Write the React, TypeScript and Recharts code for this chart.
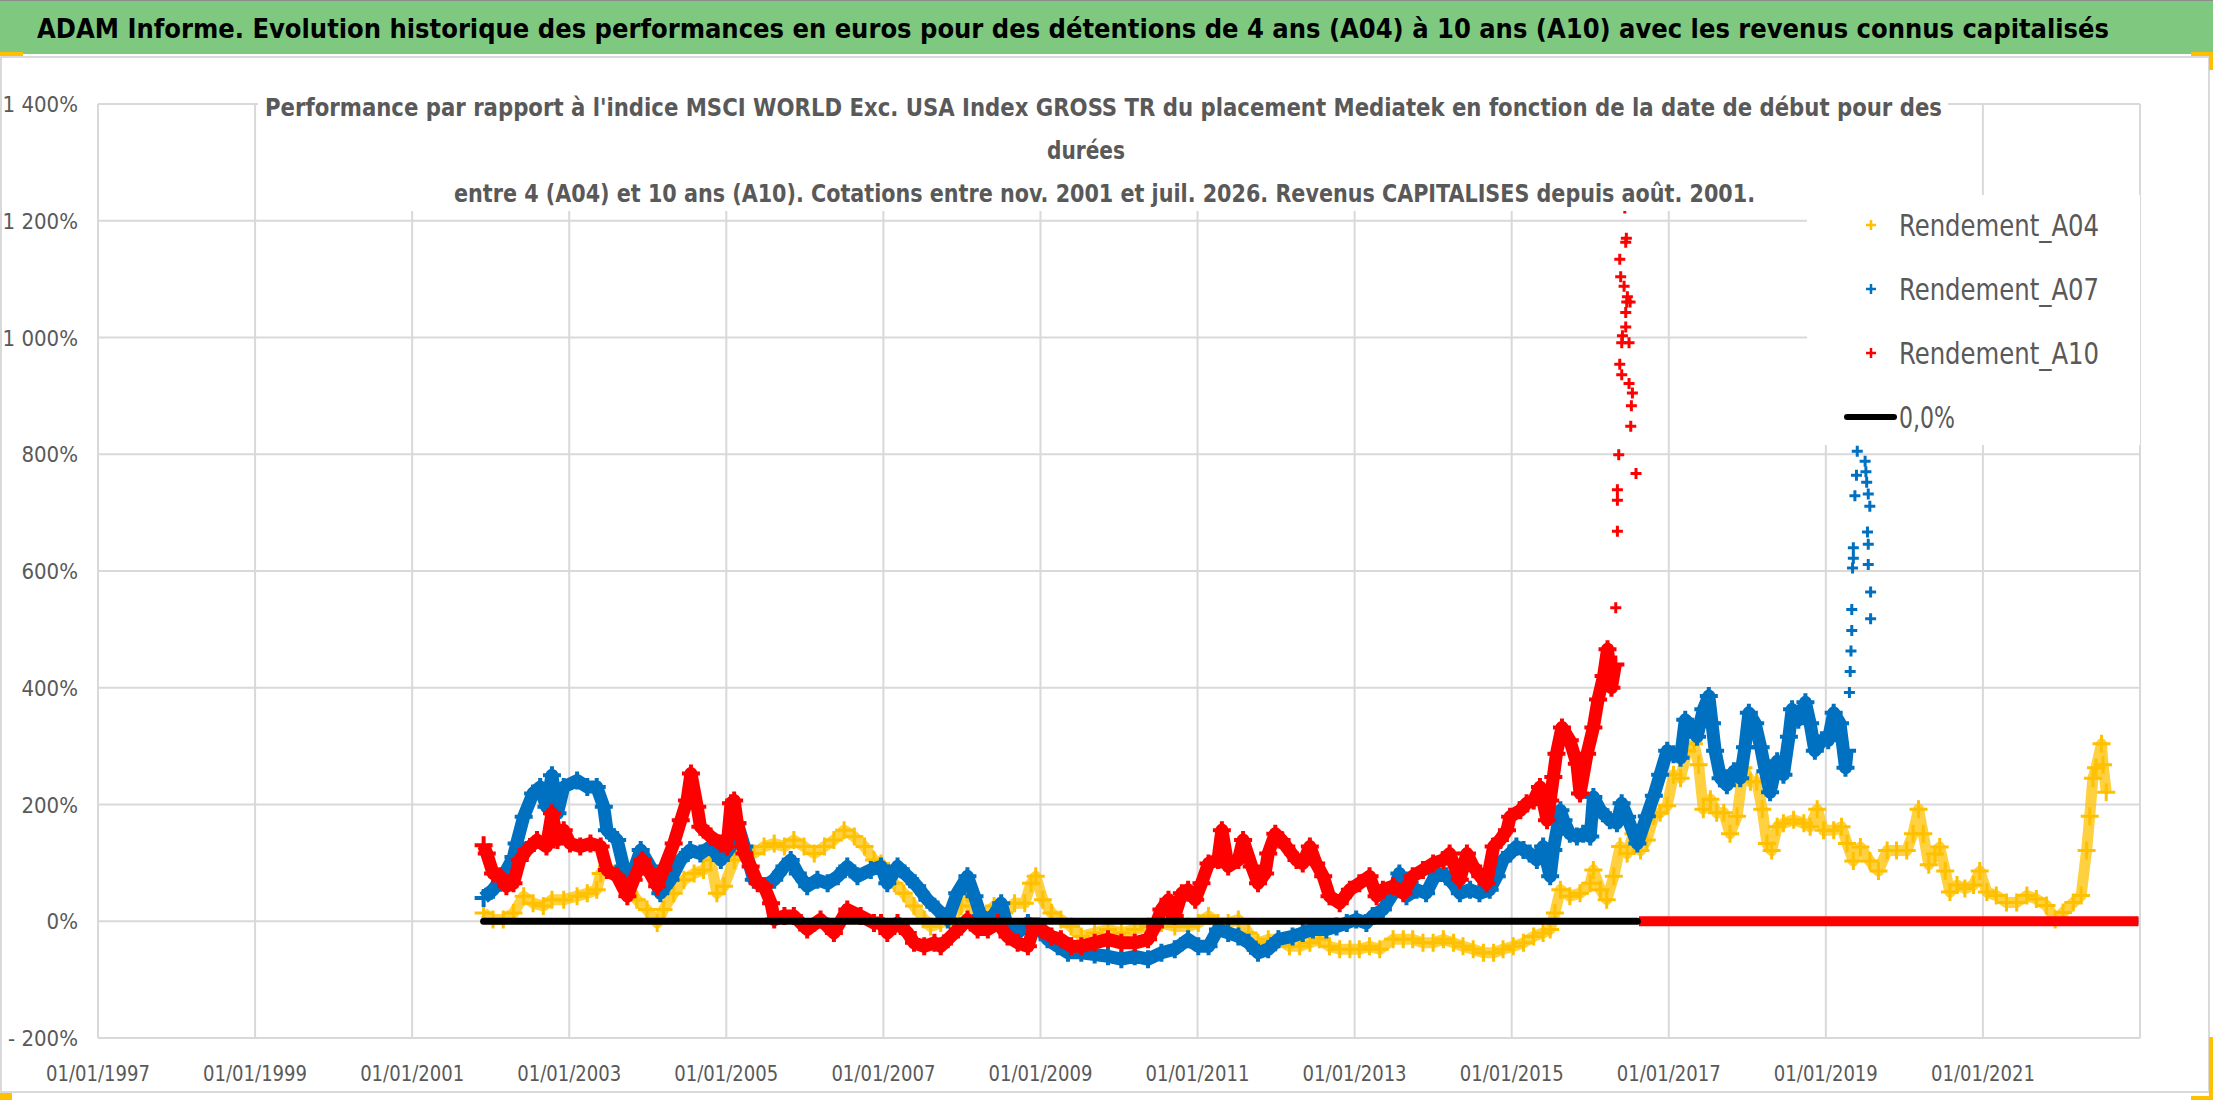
import React from 'react';
import { ScatterChart, Scatter, XAxis, YAxis, CartesianGrid, Legend } from 'recharts';

const FONT = '"Liberation Sans Narrow", "DejaVu Sans Condensed", "Liberation Sans", sans-serif';
const GREY = '#595959';

const xTicks = [1997, 1999, 2001, 2003, 2005, 2007, 2009, 2011, 2013, 2015, 2017, 2019, 2021];
const yTicks = [-200, 0, 200, 400, 600, 800, 1000, 1200, 1400];

// [date as decimal year, performance %]
const a04: [number, number][] = [
  [2001.91, 14], [2002.03, 3], [2002.16, 3], [2002.29, 14], [2002.42, 43], [2002.54, 31], [2002.67, 26], [2002.78, 37],
  [2002.93, 37], [2003.10, 43], [2003.23, 48], [2003.35, 54], [2003.40, 82], [2003.48, 94], [2003.61, 77], [2003.74, 60],
  [2003.86, 37], [2003.99, 20], [2004.12, -3], [2004.20, 20], [2004.33, 48], [2004.46, 71], [2004.59, 82], [2004.71, 88],
  [2004.80, 105], [2004.88, 48], [2004.97, 60], [2005.10, 105], [2005.23, 128], [2005.35, 116], [2005.48, 128], [2005.61, 133],
  [2005.74, 128], [2005.86, 139], [2005.99, 128], [2006.12, 116], [2006.25, 128], [2006.37, 139], [2006.50, 156], [2006.63, 145],
  [2006.76, 128], [2006.88, 105], [2006.97, 99], [2007.14, 65], [2007.26, 48], [2007.39, 26], [2007.52, 3], [2007.60, -9],
  [2007.73, -3], [2007.86, 3], [2007.99, 26], [2008.07, 48], [2008.16, 3], [2008.29, 9], [2008.41, 26], [2008.54, 14],
  [2008.67, 31], [2008.80, 31], [2008.88, 65], [2008.94, 77], [2009.03, 37], [2009.14, 14], [2009.26, 3], [2009.39, -9],
  [2009.52, -26], [2009.69, -20], [2009.86, -14], [2010.03, -20], [2010.20, -14], [2010.37, -9], [2010.54, -3], [2010.71, -9],
  [2010.88, -9], [2011.01, -3], [2011.14, 9], [2011.26, -3], [2011.39, -3], [2011.52, 3], [2011.65, -20], [2011.77, -37],
  [2011.90, -31], [2012.03, -31], [2012.17, -43], [2012.30, -43], [2012.43, -37], [2012.55, -31], [2012.68, -43], [2012.81, -48],
  [2012.94, -48], [2013.06, -48], [2013.19, -43], [2013.32, -48], [2013.49, -31], [2013.62, -31], [2013.74, -31], [2013.87, -37],
  [2014.00, -37], [2014.13, -31], [2014.26, -37], [2014.38, -43], [2014.51, -48], [2014.64, -54], [2014.77, -54], [2014.89, -48],
  [2015.02, -43], [2015.15, -37], [2015.28, -26], [2015.40, -20], [2015.49, -14], [2015.55, 14], [2015.62, 54], [2015.74, 43],
  [2015.87, 48], [2016.00, 65], [2016.04, 88], [2016.13, 54], [2016.21, 37], [2016.30, 77], [2016.38, 128], [2016.47, 116],
  [2016.55, 150], [2016.64, 121], [2016.72, 139], [2016.81, 180], [2016.89, 186], [2016.98, 198], [2017.06, 251], [2017.15, 245],
  [2017.23, 292], [2017.32, 304], [2017.38, 268], [2017.44, 192], [2017.53, 209], [2017.61, 186], [2017.70, 186], [2017.78, 150],
  [2017.87, 180], [2017.95, 263], [2018.04, 239], [2018.12, 239], [2018.19, 192], [2018.25, 133], [2018.31, 121], [2018.38, 162],
  [2018.46, 168], [2018.59, 174], [2018.72, 168], [2018.80, 162], [2018.89, 192], [2018.97, 156], [2019.10, 156], [2019.20, 162],
  [2019.27, 133], [2019.35, 103], [2019.44, 127], [2019.56, 103], [2019.67, 86], [2019.78, 121], [2019.90, 121], [2020.03, 121],
  [2020.11, 150], [2020.18, 192], [2020.24, 150], [2020.31, 97], [2020.39, 115], [2020.45, 127], [2020.52, 86], [2020.58, 50],
  [2020.67, 62], [2020.77, 56], [2020.88, 62], [2020.96, 86], [2021.05, 50], [2021.17, 44], [2021.30, 32], [2021.43, 32],
  [2021.56, 44], [2021.68, 38], [2021.81, 27], [2021.92, 3], [2022.02, 15], [2022.15, 32], [2022.25, 44], [2022.32, 121],
  [2022.36, 180], [2022.40, 245], [2022.44, 263], [2022.51, 304], [2022.53, 268], [2022.57, 221],
];

const a07: [number, number][] = [
  [2001.91, 40], [2002.03, 54], [2002.16, 77], [2002.29, 110], [2002.33, 133], [2002.42, 179], [2002.54, 219], [2002.63, 230],
  [2002.71, 196], [2002.78, 250], [2002.85, 185], [2002.93, 230], [2003.10, 241], [2003.23, 230], [2003.35, 230], [2003.44, 196],
  [2003.48, 156], [2003.61, 139], [2003.69, 94], [2003.78, 71], [2003.91, 122], [2004.03, 94], [2004.16, 48], [2004.29, 71],
  [2004.42, 105], [2004.54, 122], [2004.67, 116], [2004.80, 128], [2004.93, 105], [2005.06, 128], [2005.14, 168], [2005.23, 128],
  [2005.35, 71], [2005.48, 60], [2005.61, 71], [2005.74, 94], [2005.82, 105], [2005.91, 82], [2006.03, 60], [2006.16, 71],
  [2006.29, 65], [2006.42, 77], [2006.54, 94], [2006.67, 77], [2006.84, 88], [2006.97, 94], [2007.05, 65], [2007.18, 94],
  [2007.31, 77], [2007.43, 60], [2007.56, 37], [2007.69, 20], [2007.82, 3], [2007.94, 48], [2008.07, 77], [2008.16, 43],
  [2008.24, 9], [2008.37, 3], [2008.50, 31], [2008.58, -9], [2008.71, -20], [2008.84, -3], [2008.97, -9], [2009.09, -31],
  [2009.22, -43], [2009.35, -54], [2009.52, -54], [2009.69, -57], [2009.86, -60], [2010.03, -65], [2010.20, -60], [2010.37, -65],
  [2010.54, -54], [2010.71, -48], [2010.88, -31], [2011.01, -43], [2011.14, -43], [2011.26, -14], [2011.39, -20], [2011.52, -26],
  [2011.65, -37], [2011.77, -54], [2011.90, -48], [2012.03, -31], [2012.21, -26], [2012.34, -20], [2012.47, -14], [2012.64, -14],
  [2012.77, -9], [2012.90, -3], [2013.02, 3], [2013.15, -3], [2013.23, 9], [2013.36, 20], [2013.49, 48], [2013.57, 82],
  [2013.66, 43], [2013.79, 54], [2013.91, 48], [2014.04, 82], [2014.17, 77], [2014.25, 65], [2014.34, 48], [2014.47, 54],
  [2014.59, 48], [2014.72, 54], [2014.81, 77], [2014.89, 105], [2014.98, 116], [2015.06, 128], [2015.15, 122], [2015.23, 116],
  [2015.32, 105], [2015.40, 128], [2015.49, 77], [2015.53, 122], [2015.62, 190], [2015.66, 173], [2015.74, 150], [2015.83, 145],
  [2015.91, 150], [2016.00, 145], [2016.04, 213], [2016.13, 190], [2016.25, 173], [2016.34, 168], [2016.40, 202], [2016.47, 179],
  [2016.60, 133], [2016.72, 180], [2016.81, 215], [2016.89, 251], [2016.98, 292], [2017.06, 286], [2017.15, 280], [2017.21, 345],
  [2017.28, 333], [2017.36, 316], [2017.44, 363], [2017.51, 386], [2017.55, 339], [2017.59, 292], [2017.66, 245], [2017.74, 233],
  [2017.83, 257], [2017.91, 245], [2017.97, 298], [2018.02, 357], [2018.10, 339], [2018.17, 298], [2018.23, 257], [2018.29, 221],
  [2018.38, 274], [2018.46, 251], [2018.53, 316], [2018.57, 363], [2018.65, 345], [2018.74, 375], [2018.80, 339], [2018.86, 292],
  [2018.95, 310], [2019.03, 310], [2019.10, 357], [2019.18, 339], [2019.25, 263], [2019.27, 292],
];

// isolated points of the 2019 jump (not joined)
const a07Spike: [number, number][] = [
  [2019.30, 392], [2019.31, 428], [2019.32, 463], [2019.33, 498], [2019.33, 534], [2019.34, 605], [2019.35, 622],
  [2019.35, 640], [2019.37, 729], [2019.39, 764], [2019.40, 805], [2019.50, 788], [2019.51, 770], [2019.52, 752],
  [2019.53, 667], [2019.54, 732], [2019.54, 646], [2019.54, 611], [2019.56, 711], [2019.57, 564], [2019.57, 518],
];

const a07Zero: [number, number][] = [[2019.62, 0], [2020.5, 0], [2021.5, 0], [2022.98, 0]];

const a10: [number, number][] = [
  [2001.91, 130], [2001.95, 116], [2002.03, 82], [2002.12, 77], [2002.20, 60], [2002.29, 65], [2002.37, 105], [2002.46, 122],
  [2002.59, 139], [2002.71, 128], [2002.78, 185], [2002.85, 139], [2002.93, 156], [2003.01, 133], [2003.14, 128], [2003.27, 133],
  [2003.40, 128], [2003.48, 88], [2003.61, 77], [2003.74, 43], [2003.82, 71], [2003.93, 105], [2004.03, 82], [2004.12, 60],
  [2004.20, 88], [2004.33, 133], [2004.42, 173], [2004.50, 207], [2004.55, 253], [2004.63, 196], [2004.67, 162], [2004.80, 145],
  [2004.93, 133], [2005.01, 128], [2005.06, 202], [2005.10, 207], [2005.14, 168], [2005.23, 116], [2005.31, 94], [2005.40, 65],
  [2005.48, 60], [2005.57, 31], [2005.61, 3], [2005.74, 9], [2005.86, 9], [2006.03, -14], [2006.20, 3], [2006.37, -20],
  [2006.54, 20], [2006.71, 9], [2006.88, -3], [2006.97, -3], [2007.05, -20], [2007.18, -3], [2007.31, -20], [2007.39, -37],
  [2007.52, -43], [2007.65, -37], [2007.73, -43], [2007.86, -26], [2007.99, -9], [2008.07, 3], [2008.20, -14], [2008.33, -14],
  [2008.46, -3], [2008.58, -26], [2008.71, -37], [2008.84, -43], [2008.92, -9], [2009.01, -14], [2009.14, -26], [2009.26, -31],
  [2009.39, -43], [2009.52, -43], [2009.69, -37], [2009.86, -31], [2010.03, -37], [2010.20, -37], [2010.37, -31], [2010.46, -9],
  [2010.54, 20], [2010.63, 37], [2010.71, 9], [2010.80, 48], [2010.88, 54], [2010.97, 37], [2011.05, 65], [2011.14, 99],
  [2011.26, 105], [2011.31, 156], [2011.39, 94], [2011.52, 105], [2011.58, 139], [2011.69, 94], [2011.77, 65], [2011.86, 82],
  [2011.90, 116], [2011.99, 150], [2012.07, 139], [2012.13, 128], [2012.26, 105], [2012.34, 99], [2012.43, 128], [2012.51, 99],
  [2012.60, 77], [2012.68, 43], [2012.81, 31], [2012.94, 54], [2013.06, 65], [2013.19, 77], [2013.28, 43], [2013.36, 54],
  [2013.49, 60], [2013.62, 48], [2013.74, 77], [2013.87, 88], [2014.00, 99], [2014.13, 105], [2014.21, 116], [2014.34, 71],
  [2014.43, 116], [2014.51, 94], [2014.60, 77], [2014.68, 65], [2014.77, 128], [2014.85, 139], [2014.94, 156], [2014.98, 179],
  [2015.11, 190], [2015.19, 202], [2015.28, 207], [2015.36, 230], [2015.45, 173], [2015.49, 207], [2015.53, 247], [2015.57, 287],
  [2015.64, 332], [2015.74, 310], [2015.83, 270], [2015.87, 219], [2015.96, 287], [2016.04, 332], [2016.10, 380], [2016.17, 420],
  [2016.22, 466], [2016.27, 400], [2016.32, 440],
];

// isolated points of the 2016 jump (not joined)
const a10Spike: [number, number][] = [
  [2016.325, 537], [2016.346, 668], [2016.346, 721], [2016.346, 739], [2016.363, 799], [2016.583, 767], [2016.516, 848],
  [2016.524, 883], [2016.537, 905], [2016.494, 921], [2016.401, 936], [2016.376, 954], [2016.494, 991], [2016.401, 991],
  [2016.41, 1003], [2016.452, 1018], [2016.452, 1043], [2016.465, 1061], [2016.507, 1061], [2016.473, 1070], [2016.431, 1088],
  [2016.388, 1104], [2016.376, 1134], [2016.452, 1163], [2016.46, 1170], [2016.44, 1222],
];

const a10Zero: [number, number][] = [
  [2016.62, 0], [2017.5, 0], [2018.5, 0], [2019.5, 0], [2020.5, 0], [2021.5, 0], [2022.5, 0], [2022.98, 0],
];

const zeroLine: [number, number][] = [[2001.91, 0], [2016.6, 0]];

const pts = (rows: [number, number][]) => rows.map(([x, y]) => ({ x, y }));

const plus = (color: string, half: number, sw: number) => (props: any) => {
  const { cx, cy } = props;
  if (cx == null || cy == null) return <g />;
  return (
    <path
      d={`M${cx - half},${cy}H${cx + half}M${cx},${cy - half}V${cy + half}`}
      stroke={color}
      strokeWidth={sw}
      fill="none"
    />
  );
};

const noShape = () => <g />;

const fmtY = (v: number) => {
  const a = Math.abs(v);
  const s = a >= 1000 ? `${Math.floor(a / 1000)} ${String(a % 1000).padStart(3, '0')}` : String(a);
  return (v < 0 ? '- ' : '') + s + '%';
};

const XTick = (props: any) => {
  const { x, y, payload } = props;
  return (
    <text x={x} y={y + 43} textAnchor="middle" fontFamily={FONT} fontSize={21} fill={GREY}
      textLength={104} lengthAdjust="spacingAndGlyphs">
      {`01/01/${payload.value}`}
    </text>
  );
};

const YTick = (props: any) => {
  const { x, y, payload } = props;
  return (
    <text x={x - 20} y={y + 8} textAnchor="end" fontFamily={FONT} fontSize={22} fill={GREY}>
      {fmtY(payload.value)}
    </text>
  );
};

const legendNames = ['Rendement_A04', 'Rendement_A07', 'Rendement_A10', '0,0%'];

const LegendBox = (props: any) => {
  const items = (props.payload || [])
    .filter((p: any) => legendNames.includes(p.value))
    .sort((a: any, b: any) => legendNames.indexOf(a.value) - legendNames.indexOf(b.value));
  return (
    <svg width={333} height={250} style={{ display: 'block' }}>
      <rect width={333} height={250} fill="#fff" />
      {items.map((it: any, i: number) => {
        const cy = 30 + i * 64;
        const isLine = it.value === '0,0%';
        return (
          <g key={it.value}>
            {isLine ? (
              <line x1={40} x2={87} y1={cy} y2={cy} stroke="#000" strokeWidth={6} strokeLinecap="round" />
            ) : (
              <path d={`M${59},${cy}H${69}M${64},${cy - 5}V${cy + 5}`} stroke={it.color} strokeWidth={2.5} />
            )}
            <text x={92} y={cy + 11} fontFamily={FONT} fontSize={30} fill={GREY}
              textLength={isLine ? 56 : 200} lengthAdjust="spacingAndGlyphs">
              {it.value}
            </text>
          </g>
        );
      })}
    </svg>
  );
};

const YELLOW = '#FFC000';
const BLUE = '#0070C0';
const RED = '#FF0000';

export default function App() {
  return (
    <div style={{ position: 'absolute', left: 0, top: 0, width: 2216, height: 1102, background: '#fff', overflow: 'hidden' }}>
      <ScatterChart width={2216} height={1102} margin={{ top: 104, right: 76, bottom: 0, left: 0 }}>
        <CartesianGrid stroke="#d9d9d9" strokeWidth={2} />
        <XAxis type="number" dataKey="x" domain={[1997, 2023]} ticks={xTicks} interval={0}
          axisLine={false} tickLine={false} tickSize={0} tickMargin={0} height={64} tick={<XTick />} allowDataOverflow />
        <YAxis type="number" dataKey="y" domain={[-200, 1400]} ticks={yTicks} interval={0}
          axisLine={false} tickLine={false} tickSize={0} tickMargin={0} width={98} tick={<YTick />} allowDataOverflow />
        <Scatter name="Rendement_A04" data={pts(a04)} fill={YELLOW} isAnimationActive={false}
          line={{ stroke: YELLOW, strokeWidth: 11, strokeOpacity: 0.75, strokeLinejoin: 'round' }} shape={plus(YELLOW, 9, 3)} />
        <Scatter name="Rendement_A07" data={pts(a07)} fill={BLUE} isAnimationActive={false}
          line={{ stroke: BLUE, strokeWidth: 13, strokeLinejoin: 'round' }} shape={plus(BLUE, 9, 4)} />
        <Scatter name="a07Spike" legendType="none" data={pts(a07Spike)} fill={BLUE} isAnimationActive={false}
          shape={plus(BLUE, 5.5, 3)} />
        <Scatter name="a07Zero" legendType="none" data={pts(a07Zero)} fill={BLUE} isAnimationActive={false}
          line={{ stroke: BLUE, strokeWidth: 8 }} shape={noShape} />
        <Scatter name="Rendement_A10" data={pts(a10)} fill={RED} isAnimationActive={false}
          line={{ stroke: RED, strokeWidth: 13, strokeLinejoin: 'round' }} shape={plus(RED, 9, 4)} />
        <Scatter name="a10Spike" legendType="none" data={pts(a10Spike)} fill={RED} isAnimationActive={false}
          shape={plus(RED, 5.5, 3)} />
        <Scatter name="a10Zero" legendType="none" data={pts(a10Zero)} fill={RED} isAnimationActive={false}
          line={{ stroke: RED, strokeWidth: 10 }} shape={noShape} />
        <Scatter name="0,0%" data={pts(zeroLine)} fill="#000" isAnimationActive={false}
          line={{ stroke: '#000', strokeWidth: 7, strokeLinecap: 'round' }} shape={noShape} />
        <Legend content={LegendBox} layout="horizontal" align="center" verticalAlign="middle"
          wrapperStyle={{ position: 'absolute', left: 1807, top: 195, width: 333, height: 250 }} />
      </ScatterChart>

      {/* chart title box over the plot */}
      <svg width={2216} height={230} style={{ position: 'absolute', left: 0, top: 0, pointerEvents: 'none' }}>
        <rect x={258} y={84} width={1690} height={127} fill="#fff" />
        <g fontFamily={FONT} fontWeight="bold" fontSize={25} fill={GREY}>
          <text x={265} y={116} textLength={1677} lengthAdjust="spacingAndGlyphs">
            Performance par rapport à l'indice MSCI WORLD Exc. USA Index GROSS TR  du placement Mediatek  en fonction de la date de début pour des
          </text>
          <text x={1047} y={159} textLength={78} lengthAdjust="spacingAndGlyphs">durées</text>
          <text x={454} y={202} textLength={1301} lengthAdjust="spacingAndGlyphs">
            entre 4 (A04) et 10 ans (A10). Cotations entre nov. 2001 et juil. 2026. Revenus CAPITALISES depuis août. 2001.
          </text>
        </g>
      </svg>

      {/* frame */}
      <div style={{ position: 'absolute', left: 0, top: 56, width: 2209, height: 2, background: '#d9d9d9' }} />
      <div style={{ position: 'absolute', left: 2208, top: 56, width: 2, height: 1037, background: '#d9d9d9' }} />
      <div style={{ position: 'absolute', left: 0, top: 1091, width: 2210, height: 2, background: '#d9d9d9' }} />
      <div style={{ position: 'absolute', left: 0, top: 56, width: 2, height: 1037, background: '#d9d9d9' }} />

      {/* green header */}
      <div style={{ position: 'absolute', left: 0, top: 0, width: 2213, height: 54, background: '#7EC97F', borderTop: '1px solid #8c8c8c', boxSizing: 'border-box' }}>
        <svg width={2213} height={53} style={{ display: 'block' }}>
          <text x={37} y={37} fontFamily={FONT} fontWeight="bold" fontSize={27} fill="#000"
            textLength={2072} lengthAdjust="spacingAndGlyphs">
            ADAM Informe. Evolution historique des performances en euros pour des détentions de 4 ans (A04) à 10 ans (A10) avec les revenus connus capitalisés
          </text>
        </svg>
      </div>

      {/* selection handles */}
      <div style={{ position: 'absolute', left: 0, top: 52, width: 23, height: 4, background: '#FFC000' }} />
      <div style={{ position: 'absolute', left: 2191, top: 52, width: 22, height: 4, background: '#FFC000' }} />
      <div style={{ position: 'absolute', left: 2209, top: 52, width: 4, height: 18, background: '#FFC000' }} />
      <div style={{ position: 'absolute', left: 2209, top: 1037, width: 4, height: 63, background: '#FFC000' }} />
      <div style={{ position: 'absolute', left: 2191, top: 1096, width: 22, height: 4, background: '#FFC000' }} />
      <div style={{ position: 'absolute', left: 0, top: 1093, width: 12, height: 7, background: '#FFC000' }} />
    </div>
  );
}
